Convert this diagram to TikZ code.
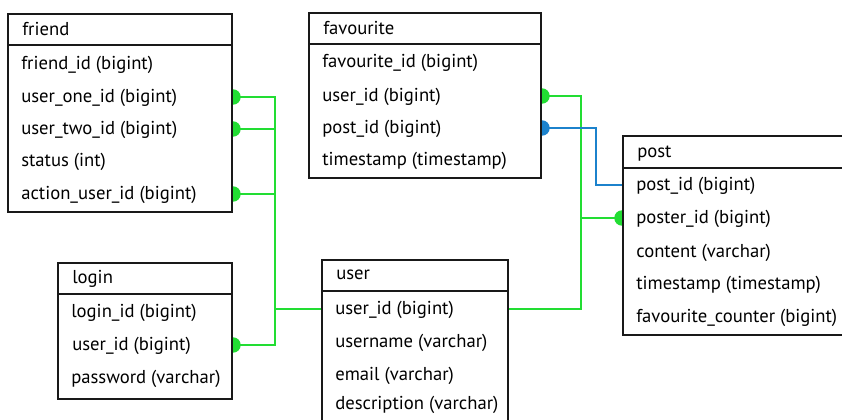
\documentclass[tikz,border=0pt]{standalone}
\usepackage{fontspec}
\setmainfont{PT Sans}
\usetikzlibrary{backgrounds}

\definecolor{relgreen}{HTML}{22DD33}
\definecolor{relblue}{HTML}{1C82CC}

\tikzset{
  tbl/.style={draw=black!90, line width=1.5pt, fill=white, anchor=north west, inner sep=0pt},
  hsep/.style={draw=black!90, line width=1.5pt},
  fld/.style={anchor=west, inner sep=0pt, text height=8pt, text depth=0pt, font=\fontsize{14}{16}\selectfont},
  rel/.style={draw=relgreen, line width=1.1pt},
  relb/.style={draw=relblue, line width=1.1pt},
  dotg/.style={fill=relgreen},
  dotb/.style={fill=relblue}
}

\begin{document}
\begin{tikzpicture}[x=0.75pt,y=-0.75pt]
        \clip (0,0) rectangle (842,419);
        % tables
        \node[tbl, minimum width=224*0.75pt, minimum height=198*0.75pt] (friend) at (7,13) {};
        \draw[hsep] (7,45) -- (231,45);
        \node[fld] (friendhd) at (22,30) {friend};
        \node[fld] (frid) at (21,64) {friend\_id (bigint)};
        \node[fld] (frone) at (21,97) {user\_one\_id (bigint)};
        \node[fld] (frtwo) at (21,129) {user\_two\_id (bigint)};
        \node[fld] (frstat) at (21,161) {status (int)};
        \node[fld] (fract) at (21,194) {action\_user\_id (bigint)};

        \node[tbl, minimum width=232*0.75pt, minimum height=165*0.75pt] (favourite) at (308,12) {};
        \draw[hsep] (308,44) -- (540,44);
        \node[fld] (favhd) at (323,29) {favourite};
        \node[fld] (favid) at (322,62) {favourite\_id (bigint)};
        \node[fld] (favuid) at (322,96) {user\_id (bigint)};
        \node[fld] (favpid) at (322,128) {post\_id (bigint)};
        \node[fld] (favts) at (322,160) {timestamp (timestamp)};

        \node[tbl, minimum width=240*0.75pt, minimum height=199*0.75pt] (post) at (622,135) {};
        \draw[hsep] (622,168) -- (860,168);
        \node[fld] (posthd) at (637,152) {post};
        \node[fld] (popid) at (636,185) {post\_id (bigint)};
        \node[fld] (poster) at (636,218) {poster\_id (bigint)};
        \node[fld] (pocont) at (636,252) {content (varchar)};
        \node[fld] (pots) at (636,284) {timestamp (timestamp)};
        \node[fld] (pocnt) at (636,317) {favourite\_counter (bigint)};

        \node[tbl, minimum width=174*0.75pt, minimum height=136*0.75pt] (login) at (57,262) {};
        \draw[hsep] (57,294) -- (231,294);
        \node[fld] (loginhd) at (72,278) {login};
        \node[fld] (loid) at (71,312) {login\_id (bigint)};
        \node[fld] (louid) at (72,345) {user\_id (bigint)};
        \node[fld] (lopw) at (71,378) {password (varchar)};

        \node[tbl, minimum width=186*0.75pt, minimum height=190*0.75pt] (user) at (321,259) {};
        \draw[hsep] (321,291) -- (507,291);
        \node[fld] (userhd) at (336,274) {user};
        \node[fld] (usuid) at (335,309) {user\_id (bigint)};
        \node[fld] (usname) at (335,342) {username (varchar)};
        \node[fld] (usmail) at (335,375) {email (varchar)};
        \node[fld] (usdesc) at (335,404) {description (varchar)};

        % relations
        \coordinate (busL) at (275,0);
        \coordinate (busR) at (581,0);
        \coordinate (busB) at (596,0);
        \begin{scope}[on background layer]
        \draw[rel] (friend.east |- frone) -| (busL |- louid) -- (login.east |- louid);
        \draw[rel] (friend.east |- frtwo) -- (busL |- frtwo);
        \draw[rel] (friend.east |- fract) -- (busL |- fract);
        \draw[rel] (busL |- usuid) -- (user.west |- usuid);
        \draw[rel] (user.east |- usuid) -| (busR |- favuid) -- (favourite.east |- favuid);
        \draw[rel] (busR |- poster) -- (post.west |- poster);
        \draw[relb] (favourite.east |- favpid) -| (busB |- popid) -- (post.west |- popid);
        \fill[dotg] (friend.east |- frone) circle [radius=5.8pt];
        \fill[dotg] (friend.east |- frtwo) circle [radius=5.8pt];
        \fill[dotg] (friend.east |- fract) circle [radius=5.8pt];
        \fill[dotg] (login.east |- louid) circle [radius=5.8pt];
        \fill[dotg] (favourite.east |- favuid) circle [radius=5.8pt];
        \fill[dotb] (favourite.east |- favpid) circle [radius=5.8pt];
        \fill[dotg] (post.west |- poster) circle [radius=5.8pt];
        \end{scope}
\end{tikzpicture}
\end{document}
